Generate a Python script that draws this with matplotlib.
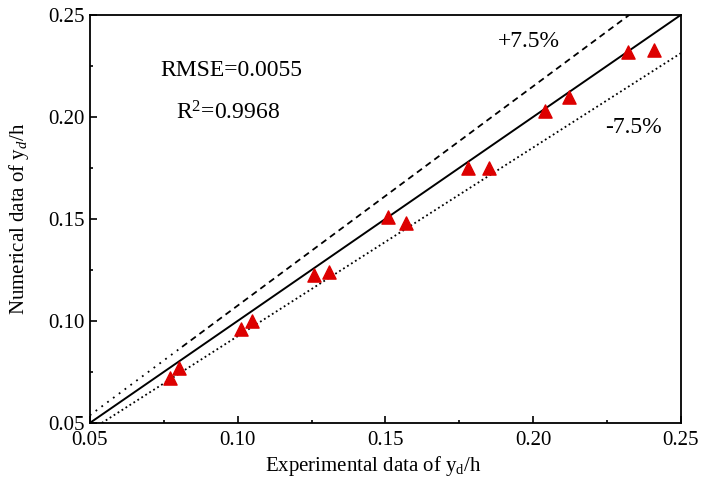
import numpy as np
import matplotlib.pyplot as plt

plt.rcParams['font.family'] = ['Liberation Serif', 'DejaVu Serif']
plt.rcParams['mathtext.fontset'] = 'custom'
plt.rcParams['mathtext.rm'] = 'Liberation Serif'
plt.rcParams['mathtext.it'] = 'Liberation Serif:italic'

# experimental vs numerical y_d/h
exp_data = [0.077, 0.080, 0.101, 0.105, 0.126, 0.131, 0.151, 0.157,
            0.178, 0.185, 0.204, 0.212, 0.232, 0.241]
num_data = [0.072, 0.077, 0.096, 0.100, 0.1225, 0.124, 0.151, 0.148,
            0.175, 0.175, 0.203, 0.2095, 0.232, 0.233]

band = 0.075
ticks = [0.05, 0.10, 0.15, 0.20, 0.25]
tick_labels = ['0.05', '0.10', '0.15', '0.20', '0.25']

fig = plt.figure(figsize=(7.02, 4.79), dpi=100)
ax = fig.add_axes([0.128, 0.117, 0.842, 0.852])

x = np.linspace(0.05, 0.25, 200)
ax.plot(x, x, color='black', lw=1.4)

# +7.5% line: dotted near the origin, dashed above
x_up = np.linspace(0.05, 0.25 / (1 + band), 200)
lo = x_up < 0.081
ax.plot(x_up[lo], x_up[lo] * (1 + band), color='black', lw=1.3, dashes=[1, 3])
ax.plot(x_up[~lo], x_up[~lo] * (1 + band), color='black', lw=1.3, dashes=[3.5, 2.5])

x_lo = np.linspace(0.05 / (1 - band), 0.25, 200)
ax.plot(x_lo, x_lo * (1 - band), color='black', lw=1.3, dashes=[1, 1.6])

ax.scatter(exp_data, num_data, marker='^', s=90, color='#dd0000', zorder=3)

ax.text(0.074, 0.2225, 'RMSE=0.0055', fontsize=17, ha='left', va='center')
ax.text(0.079, 0.202, 'R$^2$=0.9968', fontsize=17, ha='left', va='center')
ax.text(0.188, 0.2368, '+7.5%', fontsize=17, ha='left', va='center')
ax.text(0.2243, 0.1946, '-7.5%', fontsize=17, ha='left', va='center')

ax.set_xlim(0.05, 0.25)
ax.set_ylim(0.05, 0.25)
ax.set_xticks(ticks)
ax.set_xticklabels(tick_labels)
ax.set_yticks(ticks)
ax.set_yticklabels(tick_labels)
ax.set_xticks([0.075, 0.125, 0.175, 0.225], minor=True)
ax.set_yticks([0.075, 0.125, 0.175, 0.225], minor=True)
ax.tick_params(which='both', direction='in', labelsize=15, width=1.2)
ax.tick_params(which='major', length=5)
ax.tick_params(axis='x', which='major', pad=6)
ax.tick_params(which='minor', length=2.5)
for s in ax.spines.values():
    s.set_linewidth(1.3)

ax.set_xlabel('Experimental data of y$_\\mathrm{d}$/h', fontsize=15)
ax.set_ylabel('Numerical data of y$_\\mathit{d}$/h', fontsize=15)
ax.xaxis.set_label_coords(0.48, -0.077)
ax.yaxis.set_label_coords(-0.1, 0.5)

plt.savefig('out.png', dpi=100)
